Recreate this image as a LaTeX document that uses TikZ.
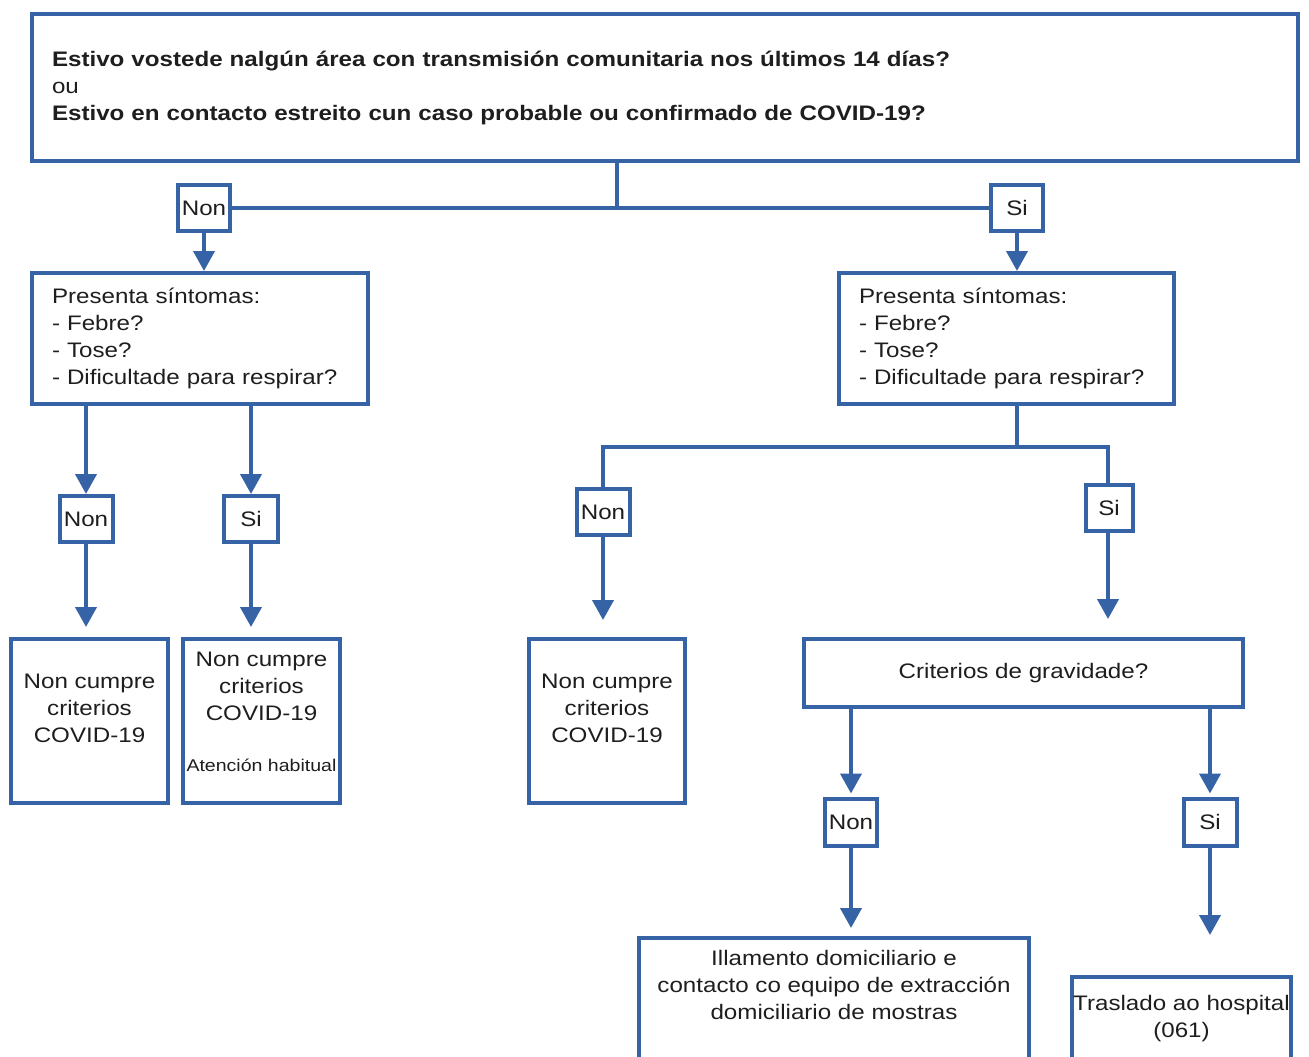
\documentclass[tikz,border=0pt]{standalone}
\usepackage{fontspec}
\setmainfont{Liberation Sans}[FakeStretch=1.15]
\usetikzlibrary{arrows.meta}
\definecolor{bblue}{RGB}{54,99,165}
\definecolor{tgray}{RGB}{30,30,30}
\tikzset{
  box/.style={draw=bblue, line width=4pt, rectangle, inner sep=0pt, fill=white, text=tgray,
     font=\fontsize{21}{27}\selectfont},
  lbl/.style={box, inner sep=0pt},
  txt/.style={text=tgray, align=center, inner sep=0pt, font=\fontsize{21}{27}\selectfont},
  conn/.style={draw=bblue, line width=4pt},
  arr/.style={conn, -{Triangle[width=21pt,length=20pt]}},
}
\begin{document}
\begin{tikzpicture}[x=1pt,y=-1pt]
\useasboundingbox[fill=white] (0,0) rectangle (1309,1057);

% top question
\node[box, minimum width=1266, minimum height=147, inner xsep=20pt, text width=1226pt, align=left]
  (top) at (665,87.5) {\textbf{Estivo vostede nalgún área con transmisión comunitaria nos últimos 14 días?}\\ou\\\textbf{Estivo en contacto estreito cun caso probable ou confirmado de COVID-19?}};
\coordinate (j1) at (617,208);
\node[lbl, minimum width=52, minimum height=46] (n1) at (204,208) {Non};
\node[lbl, minimum width=52, minimum height=46] (s1) at (1017,208) {Si};

% symptom boxes
\node[box, minimum width=336, minimum height=131, inner xsep=20pt, text width=296pt, align=left]
  (symL) at (200,338.5) {Presenta síntomas:\\- Febre?\\- Tose?\\- Dificultade para respirar?};
\node[box, minimum width=335, minimum height=131, inner xsep=20pt, text width=295pt, align=left]
  (symR) at (1006.5,338.5) {Presenta síntomas:\\- Febre?\\- Tose?\\- Dificultade para respirar?};

% left branch
\node[lbl, minimum width=53, minimum height=46] (n2) at (86,519) {Non};
\node[lbl, minimum width=54, minimum height=46] (s2) at (251,519) {Si};
\node[box, minimum width=157, minimum height=164] (A) at (89.5,721) {};
\node[box, minimum width=157, minimum height=164] (B) at (261.5,721) {};
\node[txt] (At) at (89.5,708) {Non cumpre\\criterios\\COVID-19};
\node[txt] (Bt) at (261.5,686.5) {Non cumpre\\criterios\\COVID-19};
\node[txt, font=\fontsize{17}{20}\selectfont] (Bs) at (261.5,765) {Atención habitual};

% right branch
\coordinate (j2) at (1017,447);
\coordinate (jL) at (603,447);
\coordinate (jR) at (1108,447);
\node[lbl, minimum width=53, minimum height=46] (n3) at (603,512) {Non};
\node[lbl, minimum width=47, minimum height=46] (s3) at (1109,508) {Si};
\node[box, minimum width=156, minimum height=164] (C) at (607,721) {};
\node[txt] (Ct) at (607,708) {Non cumpre\\criterios\\COVID-19};
\node[box, minimum width=439, minimum height=68] (grav) at (1023.5,673) {Criterios de gravidade?};
\node[lbl, minimum width=52, minimum height=47] (n4) at (851,822) {Non};
\node[lbl, minimum width=53, minimum height=47] (s4) at (1210,822) {Si};
\node[box, minimum width=390, minimum height=140] (ill) at (834,1008) {};
\node[txt] (illt) at (834,985) {Illamento domiciliario e\\contacto co equipo de extracción\\domiciliario de mostras};
\node[box, minimum width=219, minimum height=102] (tras) at (1181.5,1028) {};
\node[txt] (trast) at (1181.5,1018.5) {Traslado ao hospital\\(061)};

% connectors
\draw[conn] (top.south -| j1) -- (j1);
\draw[conn] (n1.east) -- (s1.west);
\draw[arr] (n1.south) -- (n1.south |- symL.north);
\draw[arr] (s1.south) -- (s1.south |- symR.north);

\draw[arr] (symL.south -| n2) -- (n2.north);
\draw[arr] (symL.south -| s2) -- (s2.north);
\draw[arr, shorten >=10pt] (n2.south) -- (n2.south |- A.north);
\draw[arr, shorten >=10pt] (s2.south) -- (s2.south |- B.north);

\draw[conn] (symR.south -| j2) -- (j2);
\draw[conn, line cap=rect] (jL) -- (jR);
\draw[conn] (jL) -- (n3.north);
\draw[conn] (jR) -- (jR |- s3.north);
\draw[arr, shorten >=17pt] (n3.south) -- (n3.south |- C.north);
\draw[arr, shorten >=18pt] (s3.south -| jR) -- (jR |- grav.north);

\draw[arr, shorten >=3pt] (grav.south -| n4) -- (n4.north);
\draw[arr, shorten >=3pt] (grav.south -| s4) -- (s4.north);
\draw[arr, shorten >=8pt] (n4.south) -- (n4.south |- ill.north);
\draw[arr, shorten >=40pt] (s4.south) -- (s4.south |- tras.north);
\end{tikzpicture}
\end{document}
